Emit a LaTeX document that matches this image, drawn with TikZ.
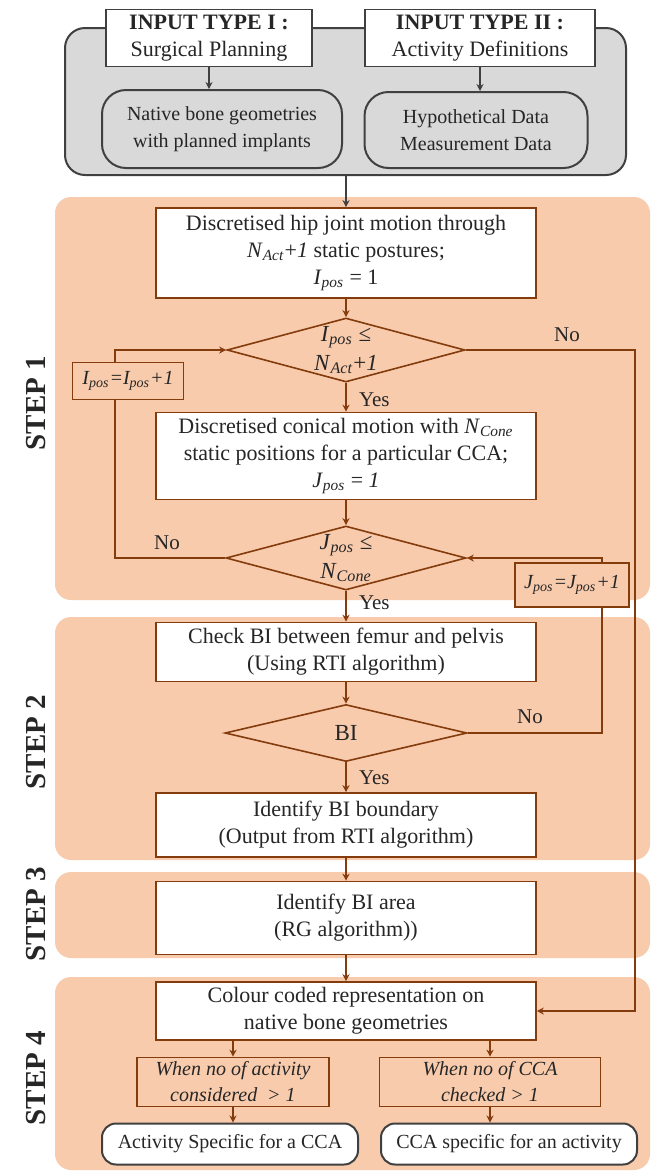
\documentclass[tikz,border=0pt]{standalone}
\usepackage{fontspec}
\setmainfont{Liberation Serif}
\usetikzlibrary{shapes.geometric,arrows.meta}
\definecolor{stepfill}{HTML}{F8CBAD}
\definecolor{grayfill}{HTML}{D9D9D9}
\definecolor{brownline}{HTML}{843C0C}
\definecolor{darkline}{HTML}{404040}
\newcommand{\vsub}[2]{\textit{#1}\textsubscript{\textit{#2}}}
\tikzset{
  every node/.style={font=\fontsize{10}{13.5}\selectfont, text=black!85},
  bigtxt/.style={font=\fontsize{11}{13.5}\selectfont},
  inbox/.style={draw=darkline, line width=0.8pt, fill=white, align=center, minimum height=28.5pt, inner sep=1pt, bigtxt},
  grpbox/.style={draw=darkline, line width=1pt, fill=grayfill, rounded corners=10pt},
  datbox/.style={grpbox, align=center, rounded corners=12pt},
  stepbox/.style={draw=brownline, line width=0.8pt, fill=white, align=center, minimum width=190pt, inner sep=1pt, bigtxt},
  dia/.style={diamond, draw=brownline, line width=0.8pt, inner sep=0pt},
  diatxt/.style={align=center, font=\fontsize{11.5}{13}\selectfont},
  incbox/.style={draw=brownline, line width=0.8pt, fill=stepfill, align=center, inner sep=1pt, font=\fontsize{10}{13}\selectfont\itshape},
  outbox/.style={draw=darkline, line width=1pt, fill=white, rounded corners=7pt, minimum width=128pt, minimum height=20.5pt},
  steplbl/.style={rotate=90, font=\fontsize{14.5}{16}\selectfont\bfseries},
  yn/.style={font=\fontsize{10.5}{12}\selectfont},
  conn/.style={draw=brownline, line width=0.8pt, -{Stealth[length=3.5pt,width=3.5pt]}},
  topconn/.style={conn, draw=darkline},
}
\begin{document}
\begin{tikzpicture}[x=0.5pt,y=-0.5pt]
    \useasboundingbox (0,0) rectangle (654,1174);
    \fill[stepfill, rounded corners=8pt] (55,197) rectangle (650,600);
    \fill[stepfill, rounded corners=8pt] (55,617) rectangle (650,860);
    \fill[stepfill, rounded corners=8pt] (55,872) rectangle (650,958);
    \fill[stepfill, rounded corners=8pt] (55,977) rectangle (650,1170);
    \node (st1) at (36,403) [steplbl] {STEP 1};
    \node (st2) at (36,742) [steplbl] {STEP 2};
    \node (st3) at (36,914) [steplbl] {STEP 3};
    \node (st4) at (36,1078) [steplbl] {STEP 4};

    \node (grp) at (345.5,101.5) [grpbox, minimum width=280.5pt, minimum height=73.5pt] {};
    \node (in1) at (209,38) [inbox, minimum width=103pt] {\textbf{INPUT TYPE I :}\\Surgical Planning};
    \node (in2) at (480,38) [inbox, minimum width=115pt] {\textbf{INPUT TYPE II :}\\Activity Definitions};
    \node (nat) at (222,129) [datbox, minimum width=120pt, minimum height=39pt] {Native bone geometries\\with planned implants};
    \node (hyp) at (476,130) [datbox, minimum width=111.5pt, minimum height=38pt] {Hypothetical Data\\Measurement Data};

    \node (hip) at (346,253) [stepbox, minimum height=45pt] {Discretised hip joint motion through\\\vsub{N}{Act}+\textit{1} static postures;\\\vsub{I}{pos} = 1};
    \node (d1) at (346,350) [dia, minimum width=119pt, minimum height=32pt] {};
    \node (d1txt) at (d1.center) [diatxt] {\vsub{I}{pos} ≤\\[1.5pt]\vsub{N}{Act}+\textit{1}};
    \node (cone) at (346,456) [stepbox, minimum height=43.5pt] {Discretised conical motion with \vsub{N}{Cone}\\static positions for a particular CCA;\\\vsub{J}{pos} = \textit{1}};
    \node (d2) at (346,558) [dia, minimum width=120pt, minimum height=32pt] {};
    \node (d2txt) at (d2.center) [diatxt] {\vsub{J}{pos} ≤\\[1.5pt]\vsub{N}{Cone}};
    \node (chk) at (346,652) [stepbox, minimum height=29.5pt] {Check BI between femur and pelvis\\(Using RTI algorithm)};
    \node (dbi) at (346,733) [dia, minimum width=121pt, minimum height=28.5pt] {};
    \node (dbitxt) at (dbi.center) [diatxt] {BI};
    \node (bnd) at (346,825) [stepbox, minimum height=32pt] {Identify BI boundary\\(Output from RTI algorithm)};
    \node (area) at (346,918) [stepbox, minimum height=36.5pt] {Identify BI area\\(RG algorithm))};
    \node (col) at (346,1011) [stepbox, minimum height=29pt] {Colour coded representation on\\native bone geometries};
    \node (w1) at (233,1082) [incbox, minimum width=96pt, minimum height=24.5pt] {When no of activity\\considered \ > 1};
    \node (w2) at (490,1082) [incbox, minimum width=110.5pt, minimum height=24.5pt] {When no of CCA\\checked > 1};
    \node (out1) at (230,1144) [outbox] {Activity Specific for a CCA};
    \node (out2) at (509,1144) [outbox] {CCA specific for an activity};

    \coordinate (lline) at (115,0);
    \coordinate (rline) at (635,0);
    \coordinate (jline) at (602,0);

    \draw[topconn] (in1.south) -- (in1.south |- nat.north);
    \draw[topconn] (in2.south) -- (in2.south |- hyp.north);
    \draw[topconn] (grp.south -| hip.north) -- (hip.north);
    \draw[conn] (hip) -- (d1);
    \draw[conn] (d1) -- (cone);
    \draw[conn] (cone) -- (d2);
    \draw[conn] (d2) -- (chk);
    \draw[conn] (chk) -- (dbi);
    \draw[conn] (dbi) -- (bnd);
    \draw[conn] (bnd) -- (area);
    \draw[conn] (area) -- (col);
    \draw[conn] (d1.east) -- (d1.east -| rline) |- (col.east);
    \draw[conn] (d2.west) -- (d2.west -| lline) |- (d1.west);
    \draw[conn] (dbi.east) -- (dbi.east -| jline) |- (d2.east);
    \draw[conn] (col.south -| w1.north) -- (w1.north);
    \draw[conn] (col.south -| w2.north) -- (w2.north);
    \draw[conn] (w1.south) -- (w1.south |- out1.north);
    \draw[conn] (w2.south) -- (w2.south |- out2.north);

    \node (iinc) at (128,381) [incbox, minimum width=55.5pt, minimum height=18.5pt] {\vsub{I}{pos}=\vsub{I}{pos}+1};
    \node (jinc) at (572,585) [incbox, minimum width=57pt, minimum height=22pt] {\vsub{J}{pos}=\vsub{J}{pos}+1};

    \node (no1) at (567,335) [yn] {No};
    \node (no2) at (167,543) [yn] {No};
    \node (no3) at (530,717) [yn] {No};
    \node (yes1) at (352,400) [yn, anchor=west] {Yes};
    \node (yes2) at (352,603) [yn, anchor=west] {Yes};
    \node (yes3) at (352,778) [yn, anchor=west] {Yes};
\end{tikzpicture}
\end{document}
